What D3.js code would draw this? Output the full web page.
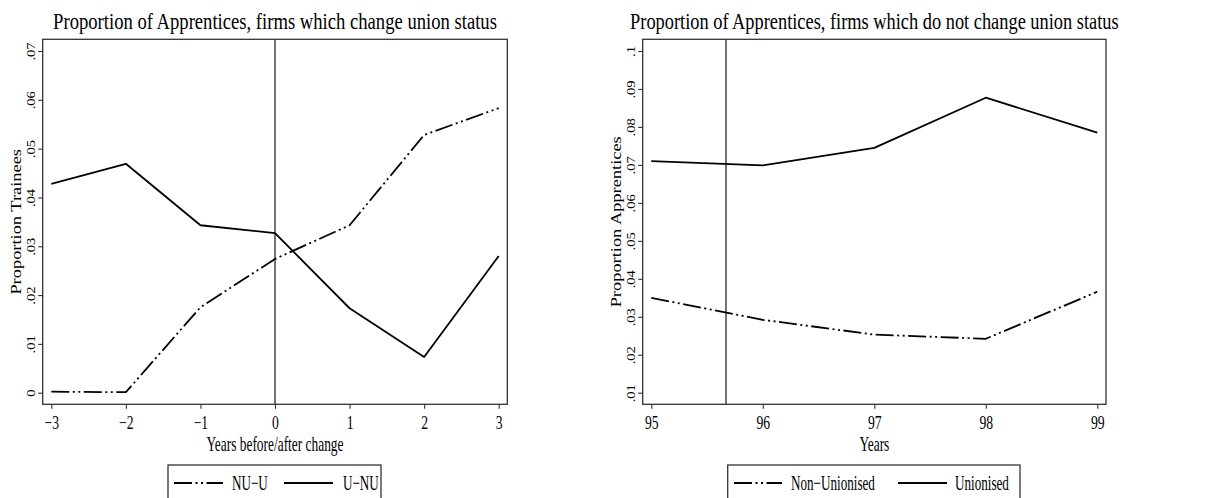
<!DOCTYPE html>
<html>
<head>
<meta charset="utf-8">
<script src="https://cdn.jsdelivr.net/npm/d3@7/dist/d3.min.js"></script>
<style>
  html, body { margin: 0; padding: 0; background: #fff; }
  svg { display: block; }
  text { font-family: "Liberation Serif", "Times New Roman", serif; fill: #000; }
</style>
</head>
<body>
<svg id="chart" width="1207" height="498"></svg>
<script>
// ---------- data ----------
const leftYears = [-3, -2, -1, 0, 1, 2, 3];
const nuToU = [0.0002, 0.0001, 0.0175, 0.0274, 0.0343, 0.0528, 0.0583];
const uToNu = [0.0428, 0.0469, 0.0343, 0.0327, 0.0173, 0.0073, 0.0280];
const leftYTicks = [0, 0.01, 0.02, 0.03, 0.04, 0.05, 0.06, 0.07];
const leftYTickLabels = ["0", ".01", ".02", ".03", ".04", ".05", ".06", ".07"];
const leftXTicks = [-3, -2, -1, 0, 1, 2, 3];
const leftXTickLabels = ["\u22123", "\u22122", "\u22121", "0", "1", "2", "3"];
const leftRefLine = 0;

const rightYears = [95, 96, 97, 98, 99];
const nonUnionised = [0.0350, 0.0292, 0.0253, 0.0242, 0.0366];
const unionised = [0.0710, 0.0699, 0.0745, 0.0877, 0.0785];
const rightYTicks = [0.01, 0.02, 0.03, 0.04, 0.05, 0.06, 0.07, 0.08, 0.09, 0.1];
const rightYTickLabels = [".01", ".02", ".03", ".04", ".05", ".06", ".07", ".08", ".09", ".1"];
const rightXTicks = [95, 96, 97, 98, 99];
const rightXTickLabels = ["95", "96", "97", "98", "99"];
const rightRefLine = 95.67;

// ---------- layout ----------
const FONT = "'Liberation Serif', 'Times New Roman', serif";
const DASHDOT = "18,3.5,2,3.5,2,3.5";
const svg = d3.select("#chart");

function panel(cfg) {
  const g = svg.append("g");
  const x = d3.scaleLinear().domain(cfg.xDomain).range(cfg.xRange);
  const y = d3.scaleLinear().domain(cfg.yDomain).range([392.7, 51]);
  const box = cfg.box; // [x0, y0, x1, y1]

  // reference vertical line
  g.append("line")
    .attr("x1", x(cfg.ref)).attr("x2", x(cfg.ref))
    .attr("y1", box[1]).attr("y2", box[3])
    .attr("stroke", "#000").attr("stroke-width", 1.1);

  // series
  const line = d3.line().x(d => x(d[0])).y(d => y(d[1]));
  cfg.series.forEach(s => {
    g.append("path")
      .datum(cfg.years.map((yr, i) => [yr, s.values[i]]))
      .attr("d", line)
      .attr("fill", "none")
      .attr("stroke", "#000")
      .attr("stroke-width", 1.8)
      .attr("stroke-linejoin", "round")
      .attr("stroke-dasharray", s.dash || null);
  });

  // plot box
  g.append("rect")
    .attr("x", box[0]).attr("y", box[1])
    .attr("width", box[2] - box[0]).attr("height", box[3] - box[1])
    .attr("fill", "none").attr("stroke", "#333").attr("stroke-width", 1.3);

  // bottom axis
  const xAxis = d3.axisBottom(x)
    .tickValues(cfg.xTicks)
    .tickFormat((d, i) => cfg.xTickLabels[i])
    .tickSize(4.5).tickSizeOuter(0);
  const xa = g.append("g").attr("transform", `translate(0,${box[3]})`).call(xAxis)
    .attr("font-size", null).attr("font-family", null);
  xa.select(".domain").remove();
  xa.selectAll(".tick line").attr("stroke", "#333").attr("stroke-width", 1.1);
  xa.selectAll(".tick text")
    .attr("y", 0).attr("dy", null)
    .attr("transform", "translate(0,25) scale(0.74,1)")
    .style("font-size", "18.5px")
    .style("font-family", FONT)
    .attr("fill", "#000");

  // left axis
  const yAxis = d3.axisLeft(y)
    .tickValues(cfg.yTicks)
    .tickFormat((d, i) => cfg.yTickLabels[i])
    .tickSize(4.5).tickSizeOuter(0);
  const ya = g.append("g").attr("transform", `translate(${box[0]},0)`).call(yAxis)
    .attr("font-size", null).attr("font-family", null);
  ya.select(".domain").remove();
  ya.selectAll(".tick line").attr("stroke", "#333").attr("stroke-width", 1.1);
  ya.selectAll(".tick text")
    .attr("x", 0).attr("y", 0).attr("dy", null)
    .attr("text-anchor", "middle")
    .attr("transform", "translate(-7.5,0) rotate(-90) scale(1,0.8)")
    .style("font-size", "14.5px")
    .style("font-family", FONT)
    .attr("fill", "#000");

  const cx = (box[0] + box[2]) / 2;
  const cy = (box[1] + box[3]) / 2;

  // title (squeezed horizontally to the reference width)
  const t = g.append("text")
    .attr("text-anchor", "middle")
    .style("font-size", "23px")
    .text(cfg.title);
  const natural = t.node().getComputedTextLength() || cfg.titleWidth;
  t.attr("transform", `translate(${cx},28.8) scale(${cfg.titleWidth / natural},1)`);

  // x title
  g.append("text")
    .attr("text-anchor", "middle")
    .style("font-size", "20px")
    .attr("transform", `translate(${cx},450.5) scale(0.67,1)`)
    .text(cfg.xTitle);

  // y title
  g.append("text")
    .attr("text-anchor", "middle")
    .style("font-size", "18.4px")
    .attr("transform", `translate(${box[0] - 21.5},${cy}) rotate(-90) scale(1,0.8)`)
    .text(cfg.yTitle);

  // legend
  const L = cfg.legend;
  g.append("rect")
    .attr("x", L.x0).attr("y", 465)
    .attr("width", L.x1 - L.x0).attr("height", 60)
    .attr("fill", "none").attr("stroke", "#333").attr("stroke-width", 1.3);
  cfg.series.forEach((s, i) => {
    const it = L.items[i];
    g.append("line")
      .attr("x1", it[0]).attr("x2", it[1])
      .attr("y1", 483).attr("y2", 483)
      .attr("stroke", "#000").attr("stroke-width", 1.8)
      .attr("stroke-dasharray", s.dash || null);
    g.append("text")
      .style("font-size", "21px")
      .attr("transform", `translate(${it[2]},490) scale(0.625,1)`)
      .text(s.name);
  });
}

panel({
  xDomain: [-3, 3], xRange: [51.3, 498.7],
  yDomain: [0, 0.07],
  box: [42.7, 39.3, 507.3, 404.3],
  ref: leftRefLine,
  years: leftYears,
  series: [
    { name: "NU\u2212U", values: nuToU, dash: DASHDOT },
    { name: "U\u2212NU", values: uToNu }
  ],
  xTicks: leftXTicks, xTickLabels: leftXTickLabels,
  yTicks: leftYTicks, yTickLabels: leftYTickLabels,
  title: "Proportion of Apprentices, firms which change union status",
  titleWidth: 444,
  xTitle: "Years before/after change",
  yTitle: "Proportion Trainees",
  legend: { x0: 168, x1: 381, items: [[174, 223, 232], [284, 333, 343]] }
});

panel({
  xDomain: [95, 99], xRange: [651.3, 1097.3],
  yDomain: [0.01, 0.1],
  box: [642.7, 39.3, 1106, 404.3],
  ref: rightRefLine,
  years: rightYears,
  series: [
    { name: "Non\u2212Unionised", values: nonUnionised, dash: DASHDOT },
    { name: "Unionised", values: unionised }
  ],
  xTicks: rightXTicks, xTickLabels: rightXTickLabels,
  yTicks: rightYTicks, yTickLabels: rightYTickLabels,
  title: "Proportion of Apprentices, firms which do not change union status",
  titleWidth: 489,
  xTitle: "Years",
  yTitle: "Proportion Apprentices",
  legend: { x0: 727.7, x1: 1020, items: [[734, 782, 791], [898, 947, 955]] }
});
</script>
</body>
</html>
